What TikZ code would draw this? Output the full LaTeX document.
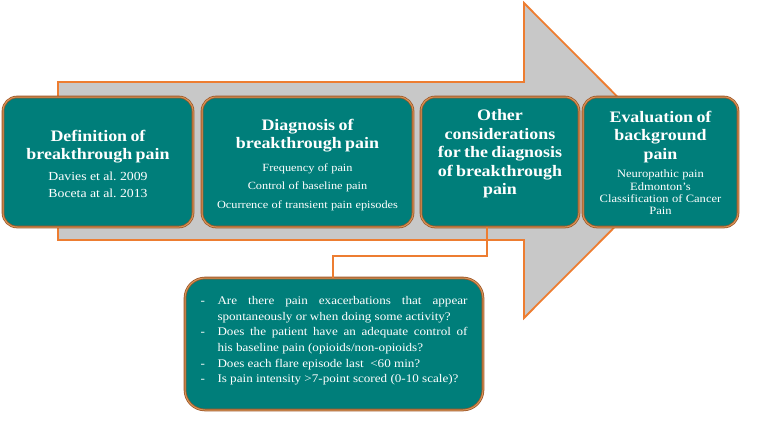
\documentclass[tikz,border=0pt]{standalone}
\usepackage{fontspec}
\setmainfont{Liberation Serif}[FakeStretch=1.12]
\definecolor{tealfill}{RGB}{0,126,122}
\definecolor{bordout}{RGB}{160,88,40}
\definecolor{bordin}{RGB}{215,150,90}
\definecolor{arrowor}{RGB}{237,125,49}
\definecolor{arrowgr}{RGB}{200,200,200}
\newcommand{\ttlfont}{\fontsize{16}{18.5}\selectfont\bfseries}
\newcommand{\subfont}{\fontsize{11}{18.5}\selectfont}
\newcommand{\dashlabel}[1]{#1\hfil}
\frenchspacing
\tikzset{
  stagebox/.style={draw=bordout, double=bordin, double distance=1pt, line width=0.8pt,
    fill=tealfill, rounded corners=14pt, inner sep=0pt},
  stagetxt/.style={text=white, align=center, inner sep=0pt},
  conn/.style={draw=arrowor, line width=1.8pt},
  bigarrow/.style={draw=arrowor, fill=arrowgr, line width=1.8pt, line join=miter}
}
\begin{document}
\begin{tikzpicture}[x=1pt,y=-1pt]
\useasboundingbox (0,0) rectangle (766,431);
% big arrow
\draw[bigarrow] (58,82) -- (524,82) -- (524,3) -- (681,160.5) -- (524,318) -- (524,240) -- (58,240) -- cycle;
% boxes
\node[stagebox, minimum width=190pt, minimum height=130pt] (b1) at (98,162) {};
\node[stagebox, minimum width=211pt, minimum height=130pt] (b2) at (307.5,162) {};
\node[stagebox, minimum width=158pt, minimum height=130pt] (b3) at (500,162) {};
\node[stagebox, minimum width=155pt, minimum height=130pt] (b4) at (660.5,162) {};
\node[stagebox, minimum width=298pt, minimum height=132pt, rounded corners=20pt] (b5) at (334,344) {};
% connector
\coordinate (c1) at (487,256);
\coordinate (c2) at (333,256);
\draw[conn] (b3.south -| c1) -- (c1) -- (c2) -- (b5.north -| c2);
% texts
\node[stagetxt, text width=185pt] (t1) at (98,164) {%
  {\ttlfont Definition of\\breakthrough pain\par}\vspace{4pt}
  {\fontsize{12.3}{17}\selectfont Davies et al. 2009\\Boceta at al. 2013\par}};
\node[stagetxt, text width=205pt] (t2) at (307.5,165) {%
  {\ttlfont Diagnosis of\\breakthrough pain\par}\vspace{4pt}
  {\subfont Frequency of pain\\Control of baseline pain\\Ocurrence of transient pain episodes\par}};
\node[stagetxt, text width=155pt] (t3) at (500,154) {%
  {\ttlfont Other\\considerations\\for the diagnosis\\of breakthrough\\pain\par}};
\node[stagetxt, text width=150pt] (t4) at (660.5,163) {%
  {\ttlfont Evaluation of\\background\\pain\par}\vspace{6pt}
  {\fontsize{11.2}{12.3}\selectfont Neuropathic pain\\Edmonton’s\\Classification of Cancer\\Pain\par}};
\node[stagetxt, align=justify, text width=267pt] (t5) at (334,337) {%
  \fontsize{11.7}{15.7}\selectfont\hyphenpenalty=10000\exhyphenpenalty=10000\tolerance=10000
  \begin{list}{-}{\setlength\leftmargin{17pt}\setlength\labelwidth{10pt}\setlength\labelsep{7pt}%
    \setlength\itemsep{0pt}\setlength\parsep{0pt}\setlength\topsep{0pt}\setlength\partopsep{0pt}%
    \let\makelabel\dashlabel}
  \item Are there pain exacerbations that appear spontaneously or when doing some activity?
  \item Does the patient have an adequate control of\linebreak his baseline pain (opioids/non-opioids?
  \item Does each flare episode last\ \ <60 min?
  \item Is pain intensity >7-point scored (0-10 scale)?
  \end{list}};
\end{tikzpicture}
\end{document}
